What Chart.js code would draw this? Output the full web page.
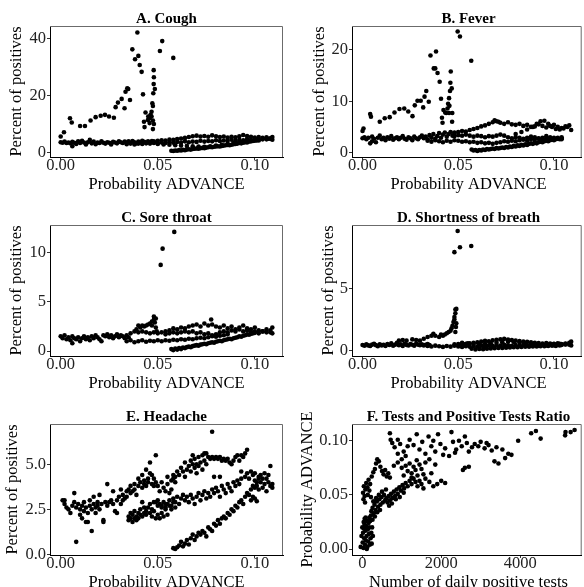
<!DOCTYPE html>
<html>
<head>
<meta charset="utf-8">
<script src="https://cdn.jsdelivr.net/npm/chart.js@4.4.1/dist/chart.umd.min.js"></script>
<style>
  html, body { margin: 0; padding: 0; background: #fff; }
  #page { position: relative; width: 584px; height: 587px; overflow: hidden; background: #fff; }
  canvas { position: absolute; }
</style>
</head>
<body>
<div id="page">
  <canvas id="chartA" width="292" height="199" style="left:0px;top:0px"></canvas>
  <canvas id="chartB" width="292" height="199" style="left:292px;top:0px"></canvas>
  <canvas id="chartC" width="292" height="199" style="left:0px;top:199px"></canvas>
  <canvas id="chartD" width="292" height="199" style="left:292px;top:199px"></canvas>
  <canvas id="chartE" width="292" height="189" style="left:0px;top:398px"></canvas>
  <canvas id="chartF" width="292" height="189" style="left:292px;top:398px"></canvas>
</div>
<script>
// ---- tick labels
const advanceTicks = [0, 0.05, 0.10];
const coughTicks = [0, 20, 40];
const feverTicks = [0, 10, 20];
const throatTicks = [0, 5, 10];
const breathTicks = [0, 5];
const headacheTicks = [0, 2.5, 5.0];
const testsTicks = [0, 2000, 4000];

// ---- A. Cough  [probability ADVANCE, percent of positives]
const coughEarly = [[0.000,3.6],[0.001,3.4],[0.002,3.8],[0.003,3.3],[0.004,3.5],[0.005,3.2],[0.006,2.2],[0.006,3.7],[0.007,3.4],[0.008,3.0],[0.009,3.9],[0.010,3.3],[0.011,4.1],[0.012,3.5],[0.013,2.8],[0.014,3.6],[0.015,4.4],[0.016,3.2],[0.017,3.8],[0.018,2.9],[0.019,3.5],[0.020,3.3],[0.021,3.9],[0.022,3.4],[0.023,3.1],[0.024,3.6],[0.025,3.4],[0.026,2.8],[0.027,3.7],[0.028,3.5],[0.029,3.2],[0.030,3.9],[0.031,3.6],[0.032,3.3],[0.033,3.8],[0.034,3.5],[0.035,3.9],[0.036,3.4],[0.037,4.0],[0.038,3.6],[0.039,3.2],[0.040,3.8],[0.041,3.5],[0.042,4.1],[0.043,3.7],[0.044,3.4],[0.045,3.9],[0.046,3.6],[0.047,4.0],[0.048,3.5]];
const coughMid = [[0.034,2.9],[0.036,3.1],[0.038,2.8],[0.040,3.1],[0.042,3.0],[0.044,3.2],[0.046,3.1],[0.048,3.3],[0.050,3.2],[0.052,3.5],[0.054,3.3],[0.056,3.6],[0.058,3.4],[0.060,3.7],[0.062,3.5],[0.064,3.9],[0.066,3.6],[0.068,3.8],[0.070,3.7],[0.072,4.1],[0.074,3.8],[0.076,4.0],[0.078,3.9],[0.080,4.3],[0.082,4.0],[0.084,4.2],[0.086,4.1],[0.088,4.5],[0.090,4.2],[0.092,4.4],[0.094,4.3],[0.096,4.7],[0.098,4.4],[0.100,4.6],[0.102,4.5],[0.104,4.9],[0.106,4.6],[0.108,4.8],[0.109,4.5]];
const coughDip = [[0.050,3.0],[0.053,2.8],[0.056,2.7],[0.059,2.5],[0.062,2.4],[0.065,2.3],[0.068,2.2],[0.071,2.1],[0.074,2.0],[0.077,2.2],[0.080,2.4],[0.083,2.7],[0.086,3.0],[0.089,3.3],[0.092,3.6],[0.095,3.9],[0.098,4.1],[0.101,4.3],[0.104,4.6],[0.107,4.8]];
const coughUpper = [[0.048,3.9],[0.050,4.1],[0.052,4.3],[0.054,4.2],[0.056,4.5],[0.058,4.4],[0.060,4.7],[0.062,4.9],[0.064,5.1],[0.066,5.4],[0.068,5.7],[0.070,5.9],[0.072,5.6],[0.074,5.8],[0.076,5.5],[0.078,6.0],[0.080,5.7],[0.082,5.4],[0.084,5.6],[0.086,5.2],[0.088,5.5],[0.090,5.3],[0.092,5.7],[0.094,6.1],[0.096,5.8],[0.098,5.5],[0.100,5.2],[0.102,5.4],[0.104,5.1],[0.106,5.3],[0.108,5.0],[0.109,5.4]];
const coughLow = [[0.057,0.6],[0.058,0.5],[0.059,0.7],[0.060,0.6],[0.061,0.8],[0.062,0.7],[0.063,0.9],[0.064,0.8],[0.065,1.0],[0.066,1.1],[0.067,1.0],[0.068,1.2],[0.069,1.3],[0.070,1.4],[0.071,1.3],[0.072,1.5],[0.073,1.6],[0.074,1.5],[0.075,1.7],[0.076,1.8],[0.077,1.9],[0.078,1.8],[0.079,2.0],[0.080,2.1],[0.081,2.2],[0.082,2.1],[0.083,2.3],[0.084,2.4],[0.085,2.5],[0.086,2.6],[0.087,2.5],[0.088,2.7],[0.089,2.9],[0.090,3.0],[0.091,3.1],[0.092,3.3],[0.093,3.2],[0.094,3.4],[0.095,3.6],[0.096,3.5],[0.097,3.8],[0.098,3.9],[0.099,4.0],[0.100,4.1],[0.101,4.3],[0.102,4.2]];
const coughSpike = [[0.000,5.6],[0.0017,7.1],[0.0048,12.0],[0.0057,10.5],[0.010,9.3],[0.0125,9.3],[0.0154,11.2],[0.018,12.4],[0.0206,12.9],[0.0228,13.2],[0.0249,12.6],[0.0274,12.2],[0.0283,15.9],[0.0295,17.5],[0.0314,18.8],[0.0329,15.5],[0.0334,21.3],[0.0343,22.5],[0.0348,22.3],[0.0357,18.4],[0.0369,36.2],[0.0383,32.7],[0.0395,42.1],[0.040,33.9],[0.0407,30.7],[0.0417,28.3],[0.0424,20.4],[0.0429,10.8],[0.0432,8.9],[0.0437,14.0],[0.0449,11.4],[0.0451,12.6],[0.0458,10.3],[0.0463,13.2],[0.0468,14.3],[0.0472,17.3],[0.0475,16.3],[0.0477,20.8],[0.0479,24.0],[0.048,26.4],[0.0479,28.9],[0.0485,22.3],[0.0475,11.2],[0.048,10.0],[0.0475,8.2],[0.0468,12.6],[0.0458,12.0],[0.0511,35.6],[0.0523,39.1],[0.058,33.2]];

// ---- B. Fever
const feverEarly = [[0.000,2.8],[0.001,3.0],[0.002,2.6],[0.003,2.9],[0.004,1.8],[0.005,2.2],[0.005,3.1],[0.006,2.7],[0.007,2.0],[0.008,2.9],[0.009,3.3],[0.010,2.6],[0.011,2.9],[0.012,2.4],[0.013,3.0],[0.014,2.7],[0.015,3.2],[0.016,2.5],[0.017,2.8],[0.018,3.0],[0.019,2.6],[0.020,2.9],[0.021,3.2],[0.022,2.7],[0.023,2.5],[0.024,3.0],[0.025,2.8],[0.026,2.4],[0.027,3.1],[0.028,2.8],[0.029,2.6],[0.030,3.0],[0.031,3.3],[0.032,2.8],[0.033,3.1],[0.034,2.6],[0.035,3.4],[0.036,2.9],[0.037,3.6],[0.038,2.7],[0.039,3.2],[0.040,3.8],[0.041,2.9],[0.042,3.5],[0.043,3.9],[0.044,3.1],[0.045,3.6],[0.046,4.0],[0.047,3.3],[0.048,3.8]];
const feverUpper = [[0.048,3.9],[0.050,4.0],[0.052,4.2],[0.054,4.1],[0.056,4.4],[0.058,4.6],[0.060,4.8],[0.062,5.1],[0.064,5.3],[0.066,5.6],[0.068,5.9],[0.069,6.3],[0.070,6.1],[0.071,6.0],[0.072,5.8],[0.074,5.6],[0.076,5.9],[0.078,5.5],[0.080,5.4],[0.082,5.6],[0.084,5.2],[0.086,5.4],[0.088,5.0],[0.090,5.1],[0.092,5.5],[0.094,5.2],[0.096,4.9],[0.098,5.2],[0.100,5.4],[0.102,5.0],[0.104,4.8],[0.106,5.1],[0.108,5.3],[0.109,4.4]];
const feverBranch = [[0.080,3.6],[0.083,4.0],[0.086,4.5],[0.089,5.0],[0.091,5.6],[0.093,6.1],[0.095,6.2],[0.097,5.6],[0.099,5.0],[0.101,4.6],[0.103,4.5],[0.105,4.7],[0.107,5.0]];
const feverMid = [[0.048,3.2],[0.050,3.4],[0.052,3.3],[0.054,3.5],[0.056,3.3],[0.058,3.1],[0.060,3.3],[0.062,3.2],[0.064,3.0],[0.066,3.2],[0.068,3.1],[0.070,3.3],[0.072,3.5],[0.074,3.3],[0.076,3.0],[0.078,2.8],[0.080,3.0],[0.082,2.9],[0.084,2.7],[0.086,2.9],[0.088,3.1],[0.090,3.0],[0.092,2.8],[0.094,2.9],[0.096,3.2],[0.098,3.0],[0.100,2.7],[0.102,2.9],[0.104,2.6]];
const feverLine2 = [[0.034,2.3],[0.036,2.1],[0.038,2.4],[0.040,2.2],[0.042,2.0],[0.044,2.3],[0.046,2.1],[0.048,2.4],[0.050,2.3],[0.052,2.1],[0.054,2.2],[0.056,2.0],[0.058,2.1],[0.060,1.9],[0.062,2.0],[0.064,1.8],[0.066,1.9],[0.068,1.7],[0.070,1.9],[0.072,2.0],[0.074,2.2],[0.076,2.1],[0.078,2.3],[0.080,2.2],[0.082,2.4],[0.084,2.5],[0.086,2.3],[0.088,2.6],[0.090,2.5],[0.092,2.7],[0.094,2.6],[0.096,2.8],[0.098,2.6],[0.100,2.9],[0.102,2.7],[0.104,3.0]];
const feverLow = [[0.057,0.6],[0.058,0.4],[0.059,0.5],[0.060,0.3],[0.061,0.5],[0.062,0.4],[0.063,0.6],[0.064,0.5],[0.065,0.7],[0.066,0.6],[0.067,0.7],[0.068,0.8],[0.069,0.7],[0.070,0.9],[0.071,0.8],[0.072,0.9],[0.073,1.0],[0.074,0.9],[0.075,1.1],[0.076,1.0],[0.077,1.2],[0.078,1.1],[0.079,1.3],[0.080,1.2],[0.081,1.4],[0.082,1.3],[0.083,1.5],[0.084,1.4],[0.085,1.6],[0.086,1.5],[0.087,1.7],[0.088,1.8],[0.089,1.7],[0.090,1.9],[0.091,1.8],[0.092,2.0],[0.093,2.1],[0.094,2.0],[0.095,2.2],[0.096,2.3],[0.097,2.2],[0.098,2.4],[0.099,2.5],[0.100,2.4],[0.101,2.6],[0.102,2.7],[0.103,2.6],[0.104,2.8]];
const feverSpike = [[0.000,4.2],[0.0005,4.7],[0.004,7.5],[0.0044,7.0],[0.009,6.0],[0.0116,6.7],[0.0142,6.9],[0.0167,7.8],[0.0193,8.5],[0.0218,8.6],[0.0239,8.0],[0.0261,7.1],[0.0273,9.2],[0.0287,10.1],[0.0304,10.1],[0.0317,8.8],[0.0324,10.9],[0.0333,12.0],[0.0346,9.9],[0.0355,18.9],[0.0372,16.4],[0.038,16.4],[0.0384,19.7],[0.0392,15.5],[0.0403,13.8],[0.041,10.5],[0.0415,6.8],[0.0418,5.8],[0.0423,8.3],[0.0432,7.8],[0.0437,7.7],[0.0444,8.6],[0.0447,9.5],[0.0452,10.6],[0.0454,9.1],[0.0457,12.0],[0.0459,13.6],[0.0461,15.8],[0.0466,12.5],[0.0469,7.7],[0.0468,6.0],[0.0452,7.7],[0.0497,23.6],[0.0509,22.6],[0.0568,17.9]];

// ---- C. Sore throat
const throatEarly = [[0.000,1.5],[0.001,1.3],[0.002,1.6],[0.003,1.2],[0.004,1.4],[0.005,1.1],[0.006,0.8],[0.006,1.5],[0.007,1.3],[0.008,1.2],[0.009,1.4],[0.010,1.0],[0.011,1.3],[0.012,1.5],[0.013,1.2],[0.014,1.4],[0.015,1.1],[0.016,1.5],[0.017,1.3],[0.018,1.6],[0.019,1.4],[0.020,1.2],[0.021,1.0],[0.022,1.6],[0.023,1.5],[0.024,1.7],[0.025,1.4],[0.026,1.6],[0.027,1.3],[0.028,1.5],[0.029,1.7],[0.030,1.4],[0.031,1.6],[0.032,1.5],[0.033,1.3],[0.034,1.6],[0.035,1.4]];
const throatArm = [[0.036,1.8],[0.038,2.0],[0.039,2.2],[0.040,2.6],[0.041,2.4],[0.042,2.6],[0.043,2.5],[0.044,2.6],[0.045,2.7],[0.046,2.8],[0.047,3.0],[0.047,2.6],[0.048,3.2],[0.048,3.5],[0.0485,2.9],[0.049,3.3],[0.049,2.4],[0.0495,2.0]];
const throatLine1 = [[0.034,1.0],[0.036,1.1],[0.038,0.9],[0.040,1.0],[0.042,1.1],[0.044,0.95],[0.046,1.05],[0.048,1.0],[0.050,1.1],[0.052,1.0],[0.054,1.1],[0.056,1.05],[0.058,1.15],[0.060,1.1],[0.062,1.2],[0.064,1.15],[0.066,1.25],[0.068,1.2],[0.070,1.3],[0.072,1.35],[0.074,1.3],[0.076,1.4],[0.078,1.5],[0.080,1.45],[0.082,1.55],[0.084,1.6],[0.086,1.7]];
const throatLine2 = [[0.040,1.9],[0.042,2.0],[0.044,1.9],[0.046,1.8],[0.048,1.9],[0.050,1.8],[0.052,1.9],[0.054,1.7],[0.056,1.8],[0.058,1.9],[0.060,1.8],[0.062,1.9],[0.064,2.0],[0.066,1.9],[0.068,2.0],[0.070,1.8],[0.072,1.9],[0.074,1.7],[0.076,1.8],[0.078,1.6],[0.080,1.7],[0.082,1.9],[0.084,2.0],[0.086,1.9],[0.088,2.1],[0.090,2.0],[0.092,2.2],[0.094,2.0],[0.096,2.1],[0.098,1.9],[0.100,2.0],[0.102,1.8],[0.104,2.0],[0.106,1.9],[0.108,2.1],[0.109,1.8]];
const throatLine3 = [[0.054,2.0],[0.056,2.1],[0.058,2.3],[0.060,2.2],[0.062,2.4],[0.064,2.3],[0.066,2.5],[0.068,2.6],[0.070,2.7],[0.072,2.5],[0.074,2.8],[0.076,2.6],[0.0775,3.2],[0.078,2.7],[0.080,2.5],[0.082,2.4],[0.084,2.6],[0.086,2.3],[0.088,2.5],[0.090,2.2],[0.092,2.4],[0.094,2.6],[0.096,2.3],[0.098,2.2],[0.100,2.4],[0.102,2.1],[0.104,2.0],[0.106,2.2],[0.108,1.9],[0.109,2.4]];
const throatLow = [[0.057,0.2],[0.058,0.1],[0.059,0.25],[0.060,0.15],[0.061,0.3],[0.062,0.2],[0.063,0.35],[0.064,0.3],[0.065,0.4],[0.066,0.45],[0.067,0.4],[0.068,0.5],[0.069,0.55],[0.070,0.6],[0.071,0.55],[0.072,0.65],[0.073,0.7],[0.074,0.75],[0.075,0.7],[0.076,0.8],[0.077,0.85],[0.078,0.9],[0.079,0.85],[0.080,0.95],[0.081,1.0],[0.082,1.05],[0.083,1.0],[0.084,1.1],[0.085,1.15],[0.086,1.2],[0.087,1.25],[0.088,1.2],[0.089,1.3],[0.090,1.35],[0.091,1.4],[0.092,1.5],[0.093,1.45],[0.094,1.55],[0.095,1.6],[0.096,1.7],[0.097,1.65],[0.098,1.75],[0.099,1.8],[0.100,1.85]];
const throatSpike = [[0.0515,8.75],[0.0525,10.4],[0.0585,12.1]];

// ---- D. Shortness of breath
const breathEarly = [[0.000,0.45],[0.001,0.40],[0.002,0.50],[0.003,0.42],[0.004,0.38],[0.005,0.48],[0.006,0.55],[0.007,0.44],[0.008,0.36],[0.009,0.50],[0.010,0.42],[0.011,0.47],[0.012,0.38],[0.013,0.52],[0.014,0.45],[0.015,0.58],[0.016,0.40],[0.017,0.48],[0.018,0.62],[0.019,0.43],[0.020,0.50],[0.021,0.38],[0.022,0.55],[0.023,0.46],[0.024,0.41],[0.025,0.52],[0.026,0.47],[0.027,0.40],[0.028,0.55],[0.029,0.48],[0.030,0.44],[0.031,0.50],[0.032,0.42],[0.033,0.47],[0.034,0.52],[0.035,0.44]];
const breathLineA = [[0.034,0.38],[0.036,0.33],[0.038,0.40],[0.040,0.35],[0.042,0.30],[0.044,0.37],[0.046,0.32],[0.048,0.39],[0.050,0.34],[0.052,0.30],[0.054,0.36],[0.056,0.31],[0.058,0.38],[0.060,0.33],[0.062,0.40],[0.064,0.36],[0.066,0.42],[0.068,0.38],[0.070,0.44],[0.072,0.40],[0.074,0.46],[0.076,0.42],[0.078,0.38],[0.080,0.44],[0.082,0.40],[0.084,0.46],[0.086,0.42],[0.088,0.48],[0.090,0.44],[0.092,0.40],[0.094,0.46],[0.096,0.42],[0.098,0.48],[0.100,0.44],[0.102,0.50],[0.104,0.46],[0.106,0.52],[0.108,0.48],[0.109,0.42]];
const breathLineB = [[0.048,0.50],[0.050,0.52],[0.052,0.48],[0.054,0.55],[0.056,0.58],[0.058,0.62],[0.060,0.66],[0.062,0.72],[0.064,0.78],[0.066,0.75],[0.068,0.82],[0.070,0.86],[0.072,0.90],[0.074,0.94],[0.076,0.88],[0.078,0.84],[0.080,0.80],[0.082,0.76],[0.084,0.72],[0.086,0.70],[0.088,0.66],[0.090,0.62],[0.092,0.60],[0.094,0.57],[0.096,0.60],[0.098,0.56],[0.100,0.54],[0.102,0.58],[0.104,0.52],[0.106,0.56],[0.108,0.62],[0.109,0.72]];
const breathLineC = [[0.052,0.62],[0.055,0.58],[0.058,0.55],[0.061,0.50],[0.064,0.56],[0.067,0.60],[0.070,0.64],[0.073,0.68],[0.076,0.72],[0.079,0.70],[0.082,0.66],[0.085,0.60],[0.088,0.55],[0.091,0.52],[0.094,0.50],[0.097,0.48],[0.100,0.52],[0.103,0.55],[0.106,0.50]];
const breathLow = [[0.057,0.15],[0.059,0.10],[0.061,0.14],[0.063,0.12],[0.065,0.16],[0.067,0.18],[0.069,0.20],[0.071,0.22],[0.073,0.21],[0.075,0.24],[0.077,0.26],[0.079,0.28],[0.081,0.27],[0.083,0.30],[0.085,0.32],[0.087,0.31],[0.089,0.34],[0.091,0.33],[0.093,0.36],[0.095,0.35],[0.097,0.38],[0.099,0.40],[0.101,0.38],[0.103,0.42]];
const breathArm = [[0.019,0.80],[0.021,0.85],[0.023,0.80],[0.026,0.90],[0.028,0.85],[0.030,0.80],[0.032,0.95],[0.034,1.10],[0.036,1.20],[0.037,1.35],[0.038,1.20],[0.040,1.10],[0.041,1.30],[0.042,1.20],[0.043,1.30],[0.044,1.40],[0.045,1.50],[0.046,1.60],[0.0465,1.80],[0.047,2.00],[0.0475,2.30],[0.048,2.50],[0.048,2.70],[0.0485,3.00],[0.0485,3.30],[0.049,3.35],[0.049,2.20],[0.0488,1.90],[0.0485,1.50]];
const breathSpike = [[0.048,7.9],[0.0497,9.6],[0.0509,8.3],[0.0568,8.4]];

// ---- E. Headache
const headacheEarly = [[0.001,3.0],[0.002,2.8],[0.002,3.0],[0.003,2.6],[0.004,2.5],[0.005,2.3],[0.006,2.7],[0.007,3.4],[0.007,2.9],[0.008,0.7],[0.008,2.6],[0.009,2.8],[0.010,2.2],[0.010,2.5],[0.011,2.7],[0.011,2.0],[0.012,2.9],[0.012,2.4],[0.013,2.6],[0.013,1.8],[0.014,1.8],[0.014,2.3],[0.015,3.0],[0.015,2.7],[0.016,1.3],[0.016,2.5],[0.017,2.8],[0.017,3.2],[0.018,2.6],[0.018,2.3],[0.019,2.9],[0.019,2.7],[0.020,2.5],[0.020,3.3],[0.021,2.8],[0.022,1.9],[0.022,1.8],[0.023,2.9],[0.024,2.7],[0.024,3.9],[0.025,2.9],[0.026,3.0],[0.027,2.8],[0.027,3.5],[0.028,2.4],[0.029,3.0],[0.029,2.3],[0.030,3.2],[0.031,3.6],[0.031,2.8],[0.032,3.0]];
const headacheUpArm = [[0.032,3.3],[0.033,3.1],[0.034,3.5],[0.034,3.2],[0.035,3.6],[0.036,3.4],[0.036,3.8],[0.037,3.5],[0.038,3.9],[0.038,3.6],[0.039,3.3],[0.040,3.8],[0.040,4.2],[0.041,4.0],[0.042,3.7],[0.042,4.4],[0.043,4.1],[0.043,3.9],[0.044,4.7],[0.044,3.8],[0.045,4.2],[0.045,4.0],[0.046,5.1],[0.046,4.5],[0.047,3.9],[0.047,4.4],[0.048,4.2],[0.048,3.8],[0.049,5.5],[0.049,4.0]];
const headacheLowArm = [[0.035,2.1],[0.035,1.9],[0.036,2.0],[0.036,2.3],[0.037,1.8],[0.037,2.2],[0.038,2.0],[0.038,2.4],[0.039,2.1],[0.039,1.9],[0.040,2.3],[0.040,2.0],[0.041,2.2],[0.041,2.5],[0.042,2.1],[0.042,2.9],[0.043,2.3],[0.043,2.6],[0.044,2.4],[0.044,2.2],[0.045,2.6],[0.046,2.3],[0.046,2.8],[0.047,2.5],[0.047,2.1],[0.048,2.9],[0.048,2.4],[0.049,2.0],[0.050,2.2],[0.050,2.7],[0.051,2.0],[0.052,2.3],[0.052,2.6],[0.053,2.1],[0.054,2.5],[0.054,2.8],[0.055,2.2],[0.056,2.7],[0.057,2.5],[0.058,2.9],[0.059,2.6]];
const headacheMidHigh = [[0.050,3.8],[0.051,3.5],[0.052,4.0],[0.053,3.7],[0.054,3.5],[0.055,3.9],[0.056,3.4],[0.057,3.6],[0.058,4.2],[0.059,4.0],[0.055,4.3],[0.057,4.1]];
const headacheUpper = [[0.058,4.4],[0.059,4.3],[0.060,4.6],[0.061,4.4],[0.062,4.8],[0.063,4.6],[0.064,4.3],[0.064,5.1],[0.065,4.7],[0.066,4.9],[0.067,5.2],[0.067,4.6],[0.068,5.0],[0.068,5.5],[0.069,4.8],[0.069,5.3],[0.070,5.0],[0.070,4.5],[0.071,5.4],[0.071,4.9],[0.072,5.1],[0.073,5.5],[0.073,4.7],[0.074,5.6],[0.074,5.2],[0.075,5.6],[0.075,5.0],[0.076,5.4],[0.077,5.3],[0.078,6.8],[0.078,5.4],[0.079,5.3],[0.079,4.3],[0.080,5.4],[0.081,5.3],[0.082,4.3],[0.082,5.4],[0.083,5.2],[0.084,5.3],[0.085,5.2],[0.086,5.3],[0.087,5.1],[0.088,5.0],[0.089,5.2],[0.090,5.4],[0.091,5.5],[0.092,5.2],[0.093,5.5],[0.094,5.4],[0.095,5.6],[0.096,5.8]];
const headacheMid = [[0.049,2.9],[0.050,3.0],[0.051,2.8],[0.052,2.7],[0.053,2.9],[0.054,2.6],[0.055,2.8],[0.056,3.0],[0.057,2.7],[0.058,3.1],[0.059,2.9],[0.060,3.2],[0.061,2.8],[0.062,3.1],[0.063,3.3],[0.064,3.0],[0.065,3.2],[0.066,2.9],[0.067,3.3],[0.068,3.1],[0.069,2.8],[0.070,3.2],[0.071,3.4],[0.072,3.0],[0.073,3.3],[0.074,3.5],[0.075,3.1],[0.076,3.4],[0.077,3.2],[0.078,3.6],[0.079,3.4],[0.080,3.7],[0.081,3.5],[0.082,3.2],[0.083,3.8],[0.084,3.6],[0.085,3.4],[0.086,3.9],[0.087,3.7],[0.088,3.5],[0.089,4.0],[0.090,3.8],[0.091,4.1],[0.092,3.9],[0.093,4.2]];
const headacheLow = [[0.058,0.35],[0.059,0.3],[0.060,0.4],[0.061,0.5],[0.062,0.7],[0.063,0.45],[0.064,0.6],[0.065,0.8],[0.066,0.55],[0.067,0.9],[0.068,1.1],[0.069,0.8],[0.070,1.0],[0.071,1.2],[0.072,1.1],[0.073,1.3],[0.074,1.2],[0.075,1.0],[0.076,1.5],[0.077,1.4],[0.078,1.3],[0.079,1.7],[0.080,1.6],[0.081,1.9],[0.082,1.7],[0.083,2.0],[0.084,2.1],[0.085,2.0],[0.086,2.3],[0.087,2.2],[0.088,2.5],[0.089,2.4],[0.090,2.7],[0.091,2.6],[0.092,2.9],[0.093,3.0],[0.094,2.8],[0.095,3.2],[0.096,3.4],[0.097,3.3],[0.098,3.6],[0.099,3.8],[0.100,3.7],[0.101,4.0],[0.102,4.2]];
const headacheRight = [[0.093,4.6],[0.095,4.3],[0.096,4.5],[0.097,4.2],[0.098,4.6],[0.099,4.4],[0.100,4.1],[0.100,4.5],[0.101,3.8],[0.102,4.3],[0.102,3.6],[0.103,4.4],[0.103,4.0],[0.104,3.7],[0.104,4.2],[0.105,4.5],[0.105,3.9],[0.106,4.2],[0.106,3.5],[0.107,4.0],[0.107,4.4],[0.108,3.8],[0.108,4.9],[0.109,3.9],[0.109,3.7],[0.098,3.0],[0.099,3.2],[0.100,3.1],[0.101,2.95]];

// ---- F. Tests and positive tests ratio  [daily positive tests, probability ADVANCE]
const testsLowCol = [[-40,0.002],[10,0.006],[30,0.001],[50,0.010],[70,0.004],[20,0.015],[90,0.008],[40,0.019],[110,0.012],[60,0.023],[130,0.002],[80,0.017],[150,0.007],[100,0.021],[170,0.014],[120,0.026],[190,0.004],[140,0.018],[60,0.028],[210,0.010],[160,0.024],[230,0.015],[180,0.029],[250,0.020],[200,0.026],[270,0.012],[220,0.031],[240,0.005],[-20,0.012],[0,0.020],[35,0.025],[85,0.029],[115,0.000],[175,0.020],[260,0.027]];
const testsLowerArc = [[230,0.035],[260,0.038],[290,0.033],[310,0.041],[340,0.036],[370,0.044],[400,0.039],[430,0.046],[460,0.041],[490,0.048],[520,0.043],[550,0.050],[580,0.045],[610,0.047],[640,0.043],[670,0.049],[700,0.045],[730,0.051],[760,0.047],[800,0.053],[830,0.049],[870,0.055],[900,0.051],[940,0.057],[980,0.054],[1020,0.059],[1060,0.056],[1100,0.061],[1150,0.058],[1200,0.063],[1250,0.060],[1300,0.065],[1350,0.062],[1400,0.058],[1450,0.063],[1500,0.060],[1550,0.056],[320,0.030],[380,0.034],[450,0.036],[280,0.044],[350,0.047],[420,0.050],[500,0.053],[600,0.055],[680,0.040],[750,0.042],[850,0.046],[950,0.048],[1050,0.052]];
const testsUpperLoop = [[20,0.052],[40,0.058],[60,0.049],[80,0.055],[100,0.061],[130,0.057],[160,0.064],[200,0.060],[240,0.067],[280,0.071],[320,0.074],[350,0.079],[380,0.083],[420,0.081],[460,0.076],[500,0.072],[540,0.069],[580,0.073],[620,0.067],[660,0.070],[700,0.066],[140,0.050],[180,0.054],[220,0.048],[30,0.046],[70,0.043]];
const testsMidCloud = [[1000,0.075],[1050,0.068],[1100,0.077],[1150,0.072],[1200,0.079],[1250,0.070],[1300,0.076],[1350,0.073],[1400,0.068],[1450,0.078],[1500,0.074],[1550,0.069],[1600,0.065],[1700,0.062],[1750,0.070],[1800,0.058],[1900,0.060],[2000,0.063],[2100,0.061],[900,0.080],[800,0.077],[1250,0.066],[1380,0.082],[1600,0.080],[1700,0.083],[1850,0.078]];
const testsUpperBand = [[700,0.107],[720,0.101],[760,0.098],[820,0.094],[900,0.101],[960,0.097],[1050,0.090],[1100,0.086],[1200,0.101],[1300,0.096],[1380,0.106],[1450,0.092],[1520,0.099],[1600,0.088],[1680,0.104],[1750,0.095],[1800,0.100],[1850,0.090],[1920,0.106],[1980,0.097],[2050,0.087],[2100,0.093],[2200,0.086],[2260,0.108],[2300,0.099],[2380,0.092],[2450,0.100],[2520,0.095],[2600,0.104],[2650,0.098],[2700,0.090],[2780,0.094],[2850,0.097],[2940,0.095],[3000,0.099],[3100,0.093],[3200,0.096],[3280,0.091],[3350,0.081],[3400,0.094],[3450,0.079],[3550,0.092],[3620,0.084],[3700,0.088],[3780,0.087],[3950,0.100],[4280,0.107],[4400,0.109],[4520,0.102],[5140,0.105],[5150,0.108],[5280,0.108],[5380,0.110],[2600,0.075],[2700,0.076],[2550,0.073],[3150,0.098],[2350,0.089],[1150,0.095],[1000,0.083],[900,0.088]];

const serif = '"Liberation Serif", "Times New Roman", serif';

// draws panel title, axis titles and the grey top/right frame
const panelDecor = {
    id: 'panelDecor',
    afterDraw(chart, args, opts)
    {
        const ctx = chart.ctx;
        const a = chart.chartArea;
        ctx.save();
        ctx.strokeStyle = '#6b6b6b';
        ctx.lineWidth = 1;
        ctx.beginPath();
        ctx.moveTo(a.left, a.top + 0.5);
        ctx.lineTo(a.right - 0.5, a.top + 0.5);
        ctx.lineTo(a.right - 0.5, a.bottom);
        ctx.stroke();

        const cx = (a.left + opts.fullRight) / 2;
        ctx.fillStyle = '#000';
        ctx.textAlign = 'center';
        ctx.textBaseline = 'alphabetic';
        ctx.font = 'bold 15px ' + serif;
        ctx.fillText(opts.title, cx, a.top - 3);
        ctx.font = '16.5px ' + serif;
        ctx.fillText(opts.xTitle, cx, a.bottom + 32);
        ctx.translate(a.left - opts.yGap, (a.top + a.bottom) / 2);
        ctx.rotate(-Math.PI / 2);
        ctx.textBaseline = 'middle';
        ctx.fillText(opts.yTitle, 0, 0);
        ctx.restore();
    }
};

function drawPanel(id, p)
{
    const tickFont = {family: serif, size: 16.5, lineHeight: 1};
    new Chart(document.getElementById(id),
    {
        type: 'scatter',
        data:
        {
            datasets: p.series.map(s => ({
                data: s,
                backgroundColor: '#000',
                borderWidth: 0,
                pointRadius: 2.3,
                pointHoverRadius: 2.3
            }))
        },
        options:
        {
            responsive: false,
            animation: false,
            layout: {padding: {left: 0, top: 26, right: p.padRight, bottom: 0}},
            plugins:
            {
                legend: {display: false},
                tooltip: {enabled: false},
                panelDecor: {title: p.title, xTitle: p.xTitle, yTitle: p.yTitle, yGap: p.yGap, fullRight: p.fullRight}
            },
            scales:
            {
                x:
                {
                    type: 'linear',
                    min: p.xMin, max: p.xMax,
                    afterBuildTicks: s => { s.ticks = p.xTicks.map(v => ({value: v})); },
                    afterFit: s => { s.height = p.xBox; },
                    ticks: {font: tickFont, color: '#222', padding: -3, maxRotation: 0,
                            callback: v => v.toFixed(p.xDigits)},
                    grid: {drawOnChartArea: false, drawTicks: true, tickLength: 3, tickColor: '#333'},
                    border: {display: true, color: '#000', width: 1}
                },
                y:
                {
                    type: 'linear',
                    min: p.yMin, max: p.yMax,
                    afterBuildTicks: s => { s.ticks = p.yTicks.map(v => ({value: v})); },
                    afterFit: s => { s.width = p.yBox; },
                    ticks: {font: tickFont, color: '#222', padding: 1,
                            callback: v => v.toFixed(p.yDigits)},
                    grid: {drawOnChartArea: false, drawTicks: true, tickLength: 3, tickColor: '#333'},
                    border: {display: true, color: '#000', width: 1}
                }
            }
        },
        plugins: [panelDecor]
    });
}

const leftCol = {padRight: 9, yBox: 50, fullRight: 283};
const rightCol = {padRight: 0, yBox: 60, fullRight: 293};
const advAxis = {xTitle: 'Probability ADVANCE', xMin: -0.0055, xMax: 0.1145, xTicks: advanceTicks, xDigits: 2};

drawPanel('chartA', Object.assign({}, leftCol, advAxis, {
    title: 'A. Cough', yTitle: 'Percent of positives', yGap: 33, xBox: 42,
    yMin: -1.6, yMax: 44.4, yTicks: coughTicks, yDigits: 0,
    series: [coughEarly, coughMid, coughDip, coughUpper, coughLow, coughSpike]}));

drawPanel('chartB', Object.assign({}, rightCol, advAxis, {
    title: 'B. Fever', yTitle: 'Percent of positives', yGap: 32, xBox: 42,
    yMin: -0.86, yMax: 24.66, yTicks: feverTicks, yDigits: 0,
    series: [feverEarly, feverUpper, feverBranch, feverMid, feverLine2, feverLow, feverSpike]}));

drawPanel('chartC', Object.assign({}, leftCol, advAxis, {
    title: 'C. Sore throat', yTitle: 'Percent of positives', yGap: 33, xBox: 42,
    yMin: -0.5, yMax: 12.8, yTicks: throatTicks, yDigits: 0,
    series: [throatEarly, throatArm, throatLine1, throatLine2, throatLine3, throatLow, throatSpike]}));

drawPanel('chartD', Object.assign({}, rightCol, advAxis, {
    title: 'D. Shortness of breath', yTitle: 'Percent of positives', yGap: 23, xBox: 42,
    yMin: -0.43, yMax: 10.08, yTicks: breathTicks, yDigits: 0,
    series: [breathEarly, breathLineA, breathLineB, breathLineC, breathLow, breathArm, breathSpike]}));

drawPanel('chartE', Object.assign({}, leftCol, advAxis, {
    title: 'E. Headache', yTitle: 'Percent of positives', yGap: 37, xBox: 32,
    yMin: -0.03, yMax: 7.23, yTicks: headacheTicks, yDigits: 1,
    series: [headacheEarly, headacheUpArm, headacheLowArm, headacheMidHigh, headacheUpper, headacheMid, headacheLow, headacheRight]}));

drawPanel('chartF', Object.assign({}, rightCol, {
    title: 'F. Tests and Positive Tests Ratio', yTitle: 'Probability ADVANCE', yGap: 44, xBox: 32,
    xTitle: 'Number of daily positive tests', xMin: -260, xMax: 5560, xTicks: testsTicks, xDigits: 0,
    yMin: -0.0055, yMax: 0.1155, yTicks: advanceTicks, yDigits: 2,
    series: [testsLowCol, testsLowerArc, testsUpperLoop, testsMidCloud, testsUpperBand]}));
</script>
</body>
</html>
